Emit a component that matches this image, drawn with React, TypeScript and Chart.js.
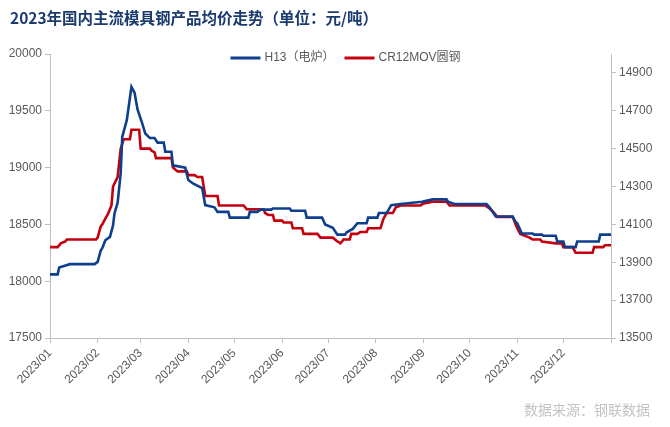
import React, { useEffect, useRef } from "react";
import { Chart, registerables } from "chart.js";

Chart.register(...registerables);

// ---------- Data ----------
const TITLE = "2023年国内主流模具钢产品均价走势（单位：元/吨）";
const SOURCE = "数据来源：钢联数据";
const SERIES_NAMES = ["H13（电炉）", "CR12MOV圆钢"];

// day of year (0 = 2023-01-01)
const h13Days = [
  0, 5, 6, 8, 13, 29, 31, 33, 34, 36, 39, 41, 42, 44, 46, 47, 50, 53, 55, 57,
  60, 62, 65, 68, 70, 74, 75, 79, 80, 88, 90, 93, 99, 101, 107, 109, 116, 117,
  129, 130, 135, 137, 144, 145, 156, 157, 166, 167, 177, 179, 184, 187, 192,
  193, 197, 200, 206, 207, 213, 214, 219, 222, 228, 242, 249, 258, 259, 263,
  284, 286, 290, 301, 303, 304, 307, 314, 315, 320, 321, 329, 330, 334, 335,
  342, 343, 357, 358, 365,
];
const h13Values = [
  18060, 18060, 18120, 18130, 18150, 18150, 18170, 18270, 18290, 18360, 18390,
  18490, 18600, 18690, 18950, 19270, 19420, 19710, 19660, 19510, 19390, 19300,
  19260, 19260, 19220, 19220, 19140, 19140, 19020, 19000, 18890, 18860, 18820,
  18670, 18650, 18610, 18610, 18560, 18560, 18610, 18610, 18630, 18630, 18640,
  18640, 18620, 18620, 18560, 18560, 18500, 18470, 18410, 18410, 18430, 18460,
  18510, 18510, 18560, 18560, 18600, 18600, 18670, 18680, 18700, 18720, 18720,
  18700, 18680, 18680, 18650, 18570, 18570, 18520, 18510, 18420, 18420, 18410,
  18410, 18400, 18400, 18350, 18350, 18300, 18300, 18350, 18350, 18410, 18410,
];

const crDays = [
  0, 5, 7, 10, 11, 30, 31, 33, 34, 36, 38, 40, 41, 44, 46, 48, 52, 53, 58, 59,
  65, 66, 68, 69, 79, 80, 83, 89, 90, 94, 96, 99, 101, 109, 110, 126, 128, 139,
  140, 142, 145, 146, 151, 152, 157, 158, 164, 165, 174, 176, 184, 187, 189,
  191, 195, 196, 200, 202, 206, 207, 215, 217, 219, 223, 225, 228, 241, 243,
  249, 258, 260, 265, 283, 285, 288, 291, 301, 303, 304, 306, 309, 312, 314,
  319, 320, 329, 333, 334, 340, 342, 353, 354, 360, 361, 365,
];
const crValues = [
  13980, 13980, 14000, 14010, 14020, 14020, 14030, 14090, 14100, 14130, 14160,
  14200, 14300, 14350, 14500, 14550, 14550, 14600, 14600, 14500, 14500, 14490,
  14480, 14450, 14450, 14400, 14380, 14380, 14360, 14360, 14350, 14350, 14250,
  14250, 14200, 14200, 14180, 14180, 14160, 14150, 14150, 14120, 14120, 14110,
  14110, 14080, 14080, 14050, 14050, 14030, 14030, 14010, 14000, 14020, 14020,
  14050, 14050, 14060, 14060, 14080, 14080, 14130, 14160, 14160, 14190, 14200,
  14200, 14210, 14220, 14220, 14200, 14200, 14200, 14190, 14170, 14140, 14140,
  14100, 14080, 14050, 14040, 14030, 14020, 14020, 14010, 14000, 14000, 13980,
  13980, 13950, 13950, 13980, 13980, 13990, 13990,
];

const monthStartDays = [0, 31, 59, 90, 120, 151, 181, 212, 243, 273, 304, 334, 365];
const monthLabels = [
  "2023/01", "2023/02", "2023/03", "2023/04", "2023/05", "2023/06",
  "2023/07", "2023/08", "2023/09", "2023/10", "2023/11", "2023/12",
];
const leftTicks = [17500, 18000, 18500, 19000, 19500, 20000];
const rightTicks = [13500, 13700, 13900, 14100, 14300, 14500, 14700, 14900];

// ---------- Styles ----------
const BLUE = "#0e3f8e";
const RED = "#c4000e";
const AXIS = "#bfbfbf";
const TEXT = "#595959";
const FONT = "'Liberation Sans', Arial, 'Noto Sans CJK SC', sans-serif";

const overlayPlugin = {
  id: "overlay",
  afterDraw(chart: any) {
    const ctx = chart.ctx as CanvasRenderingContext2D;
    const area = chart.chartArea;
    ctx.save();
    // title
    ctx.font = "bold 15.5px 'Noto Sans CJK SC', sans-serif";
    ctx.fillStyle = "#1b3a6f";
    ctx.textBaseline = "middle";
    ctx.textAlign = "left";
    ctx.fillText(TITLE, 10, 18);

    // legend
    ctx.font = `12px ${FONT}`;
    const colors = [BLUE, RED];
    const lineW = 30;
    const gapText = 4;
    const gapItem = 10;
    const widths = SERIES_NAMES.map((n) => ctx.measureText(n).width);
    const total =
      widths.reduce((a, b) => a + b, 0) + SERIES_NAMES.length * (lineW + gapText) + gapItem;
    let x = (area.left + area.right) / 2 + 15 - total / 2;
    const y = area.top + 4;
    SERIES_NAMES.forEach((n, i) => {
      ctx.strokeStyle = colors[i];
      ctx.lineWidth = 3;
      ctx.beginPath();
      ctx.moveTo(x, y);
      ctx.lineTo(x + lineW, y);
      ctx.stroke();
      x += lineW + gapText;
      ctx.fillStyle = TEXT;
      ctx.fillText(n, x, y);
      x += widths[i] + gapItem;
    });

    // source
    ctx.font = "14px 'Noto Sans CJK SC', sans-serif";
    ctx.fillStyle = "#c3c3c3";
    ctx.textAlign = "right";
    ctx.fillText(SOURCE, 650, 410);
    ctx.restore();
  },
};

export default function App() {
  const ref = useRef<HTMLCanvasElement>(null);
  useEffect(() => {
    document.body.style.margin = "0";
    const h13 = h13Days.map((d, i) => ({ x: d, y: h13Values[i] }));
    const cr = crDays.map((d, i) => ({ x: d, y: crValues[i] }));
    const chart = new Chart(ref.current!, {
      type: "line",
      data: {
        datasets: [
          {
            label: SERIES_NAMES[0],
            data: h13,
            borderColor: BLUE,
            backgroundColor: BLUE,
            borderWidth: 2.6,
            pointRadius: 0,
            tension: 0,
            yAxisID: "y",
          },
          {
            label: SERIES_NAMES[1],
            data: cr,
            borderColor: RED,
            backgroundColor: RED,
            borderWidth: 2.6,
            pointRadius: 0,
            tension: 0,
            yAxisID: "y1",
          },
        ],
      },
      options: {
        responsive: false,
        animation: false,
        layout: { padding: { top: 54, left: 0, right: 0, bottom: 0 } },
        plugins: {
          legend: { display: false },
          title: { display: false },
          tooltip: { enabled: false },
        },
        scales: {
          x: {
            type: "linear",
            min: 0,
            max: 365,
            afterBuildTicks: (s: any) => {
              s.ticks = monthStartDays.map((v) => ({ value: v }));
            },
            afterFit: (s: any) => {
              s.height = 89;
            },
            ticks: {
              autoSkip: false,
              minRotation: 45,
              maxRotation: 45,
              color: TEXT,
              font: { family: FONT, size: 12 },
              padding: 3,
              callback: (_v: any, i: number) => monthLabels[i] ?? "",
            },
            grid: { drawOnChartArea: false, drawTicks: true, tickLength: 5, color: AXIS },
            border: { display: true, color: AXIS },
          },
          y: {
            type: "linear",
            position: "left",
            min: 17500,
            max: 20000,
            afterBuildTicks: (s: any) => {
              s.ticks = leftTicks.map((v) => ({ value: v }));
            },
            afterFit: (s: any) => {
              s.width = 50;
            },
            ticks: {
              color: TEXT,
              font: { family: FONT, size: 12 },
              padding: 3,
              callback: (v: any) => String(v),
            },
            grid: { drawOnChartArea: false, drawTicks: true, tickLength: 5, color: AXIS },
            border: { display: true, color: AXIS },
          },
          y1: {
            type: "linear",
            position: "right",
            min: 13500,
            max: 15000,
            afterBuildTicks: (s: any) => {
              s.ticks = rightTicks.map((v) => ({ value: v }));
            },
            afterFit: (s: any) => {
              s.width = 59;
            },
            ticks: {
              color: TEXT,
              font: { family: FONT, size: 12 },
              padding: 3,
              callback: (v: any) => String(v),
            },
            grid: { drawOnChartArea: false, drawTicks: true, tickLength: 5, color: AXIS },
            border: { display: true, color: AXIS },
          },
        },
      },
      plugins: [overlayPlugin],
    });
    return () => chart.destroy();
  }, []);
  return (
    <div style={{ width: 670, height: 427, background: "#fff" }}>
      <canvas ref={ref} width={670} height={427} />
    </div>
  );
}
